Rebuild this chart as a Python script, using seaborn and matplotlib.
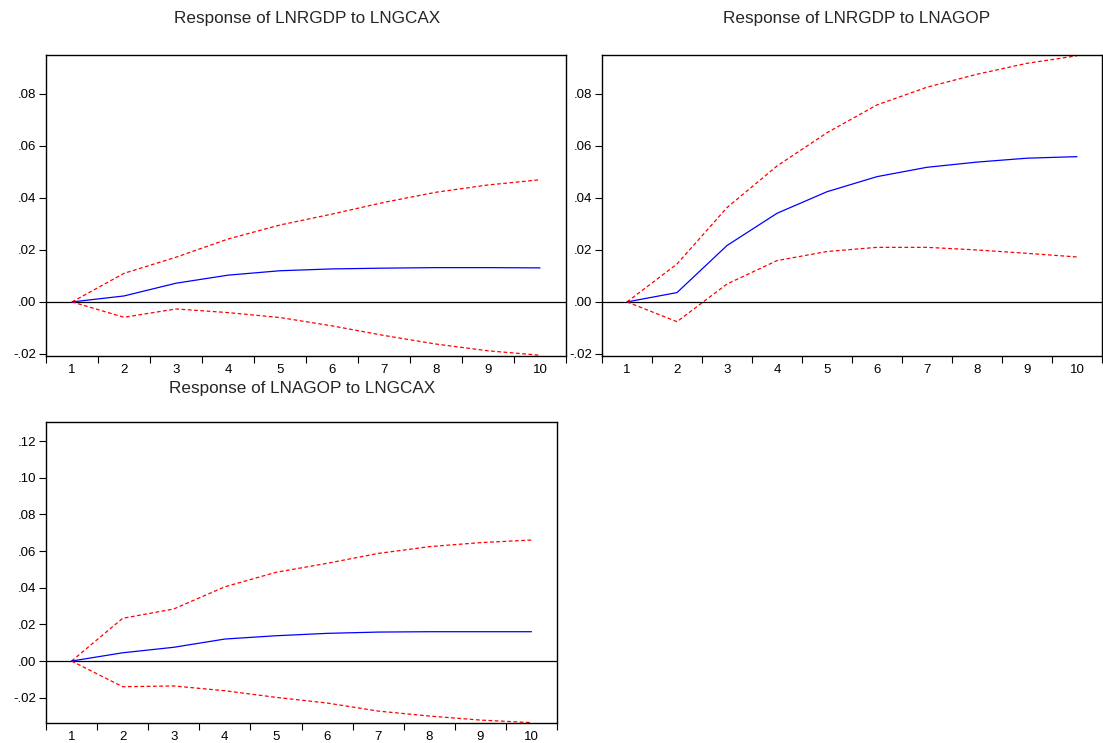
import numpy as np
import pandas as pd
import matplotlib
matplotlib.use("Agg")
import matplotlib.pyplot as plt
from matplotlib.ticker import FuncFormatter, FixedLocator
import seaborn as sns

sns.set_theme(style="ticks")
plt.rcParams["font.family"] = ["Liberation Sans", "DejaVu Sans"]

# ---- data ----
periods = list(range(1, 11))

titles = ["Response of LNRGDP to LNGCAX",
          "Response of LNRGDP to LNAGOP",
          "Response of LNAGOP to LNGCAX"]

gdp_gcax_resp  = [0.0, 0.0023, 0.0072, 0.0103, 0.0120, 0.0127, 0.0130, 0.0132, 0.0132, 0.0131]
gdp_gcax_upper = [0.0, 0.0110, 0.0172, 0.0242, 0.0296, 0.0338, 0.0383, 0.0422, 0.0450, 0.0470]
gdp_gcax_lower = [0.0, -0.0059, -0.0027, -0.0041, -0.0060, -0.0092, -0.0129, -0.0162, -0.0188, -0.0205]

gdp_agop_resp  = [0.0, 0.0036, 0.0217, 0.0341, 0.0424, 0.0482, 0.0518, 0.0538, 0.0553, 0.0559]
gdp_agop_upper = [0.0, 0.0146, 0.0363, 0.0523, 0.0651, 0.0758, 0.0826, 0.0876, 0.0918, 0.0947]
gdp_agop_lower = [0.0, -0.0076, 0.0069, 0.0159, 0.0194, 0.0210, 0.0210, 0.0200, 0.0187, 0.0173]

agop_gcax_resp  = [0.0, 0.0045, 0.0075, 0.0120, 0.0138, 0.0151, 0.0158, 0.0160, 0.0160, 0.0160]
agop_gcax_upper = [0.0, 0.0233, 0.0284, 0.0405, 0.0484, 0.0533, 0.0587, 0.0624, 0.0646, 0.0660]
agop_gcax_lower = [0.0, -0.0140, -0.0136, -0.0162, -0.0198, -0.0229, -0.0273, -0.0300, -0.0322, -0.0336]

W, H = 1103, 743
fig = plt.figure(figsize=(W / 100, H / 100), dpi=100)


def px_axes(left, top, right, bottom):
    return fig.add_axes([left / W, 1 - bottom / H, (right - left) / W, (bottom - top) / H])


def eviews_fmt(v, pos):
    s = f"{v:.2f}"
    return s.replace("0.", ".", 1)


panels = [
    (px_axes(46, 55, 566, 356), gdp_gcax_resp, gdp_gcax_upper, gdp_gcax_lower,
     (-0.0208, 0.095), np.arange(-0.02, 0.081, 0.02), (307, 19)),
    (px_axes(602, 55, 1102, 356), gdp_agop_resp, gdp_agop_upper, gdp_agop_lower,
     (-0.0208, 0.095), np.arange(-0.02, 0.081, 0.02), (857, 19)),
    (px_axes(46, 422, 557, 723), agop_gcax_resp, agop_gcax_upper, agop_gcax_lower,
     (-0.0338, 0.1304), np.arange(-0.02, 0.121, 0.02), (302, 389)),
]

for (ax, resp, upper, lower, ylim, yticks, tpos), title in zip(panels, titles):
    df = pd.DataFrame({"period": periods, "resp": resp, "upper": upper, "lower": lower})
    ax.axhline(0, color="black", lw=0.9, zorder=1)
    sns.lineplot(data=df, x="period", y="upper", ax=ax, color="red", lw=0.9, linestyle=(0, (3, 2)))
    sns.lineplot(data=df, x="period", y="lower", ax=ax, color="red", lw=0.9, linestyle=(0, (3, 2)))
    sns.lineplot(data=df, x="period", y="resp", ax=ax, color="blue", lw=0.9)

    ax.set_xlim(0.5, 10.5)
    ax.set_ylim(*ylim)
    ax.xaxis.set_major_locator(FixedLocator(periods))
    ax.xaxis.set_minor_locator(FixedLocator(np.arange(0.5, 10.6, 1.0)))
    ax.tick_params(axis="x", which="major", length=0, pad=6, labelsize=9.5, colors="black")
    ax.tick_params(axis="x", which="minor", length=5, width=0.8, direction="out", color="black")
    ax.set_yticks(yticks)
    ax.yaxis.set_major_formatter(FuncFormatter(eviews_fmt))
    ax.tick_params(axis="y", length=5, width=0.8, direction="out", labelsize=9.5, pad=2, colors="black")
    ax.set_xlabel("")
    ax.set_ylabel("")
    for sp in ax.spines.values():
        sp.set_visible(True)
        sp.set_color("black")
        sp.set_linewidth(1.0)
    fig.text(tpos[0] / W, 1 - tpos[1] / H, title, ha="center", va="center", fontsize=12.3)

fig.savefig("out.png", dpi=100, facecolor="white")
